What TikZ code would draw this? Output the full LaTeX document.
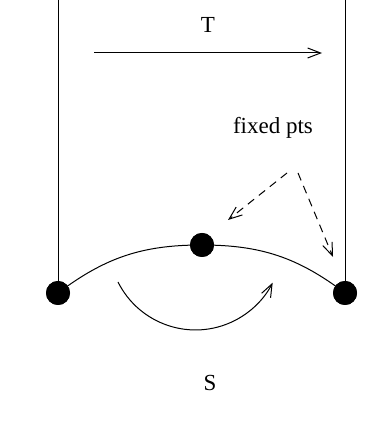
\documentclass[tikz,border=0pt]{standalone}
\usepackage{fontspec}
\setmainfont{Liberation Serif}
\usetikzlibrary{arrows.meta}
\begin{document}
\begin{tikzpicture}[x=1pt,y=1pt,line width=1pt,
  dot/.style={circle,fill=black,inner sep=0pt,minimum size=24pt},
  lbl/.style={font=\fontsize{23}{27}\selectfont,inner sep=0pt},
  tip/.style={-{Straight Barb[length=13pt,width=10pt,line width=1pt]}},
  dsh/.style={dash pattern=on 8pt off 6pt}]
\useasboundingbox (0,0) rectangle (383,435);
\node[dot] (L) at (58,142) {};
\node[dot] (C) at (202,190) {};
\node[dot] (R) at (345,142) {};
\coordinate (Ltop) at (58,435);
\coordinate (Rtop) at (345,435);
\draw (Ltop) -- (L.center);
\draw (Rtop) -- (R.center);
\draw (L.center) to[bend left=18.5] (C.center) to[bend left=18.5] (R.center);
\node[dot] at (L) {};
\node[dot] at (C) {};
\node[dot] at (R) {};
% T
\coordinate (t1) at (94,382);
\coordinate (t2) at (322,382);
\draw[tip] (t1) -- (t2);
\node[lbl] (T) at (208,410) {T};
% fixed pts
\node[lbl] (F) at (273,307) {fixed pts};
\coordinate (f1) at (287,262);
\coordinate (f2) at (298,262);
\coordinate (fc) at (228,215);
\coordinate (fr) at (333,178);
\draw[tip,dsh] (f1) -- (fc);
\draw[tip,dsh] (f2) -- (fr);
% S
\coordinate (s1) at (118,153);
\draw[tip] (s1) arc[start angle=206.5,end angle=333,radius=86.6];
\node[lbl] (S) at (210,52) {S};
\end{tikzpicture}
\end{document}
